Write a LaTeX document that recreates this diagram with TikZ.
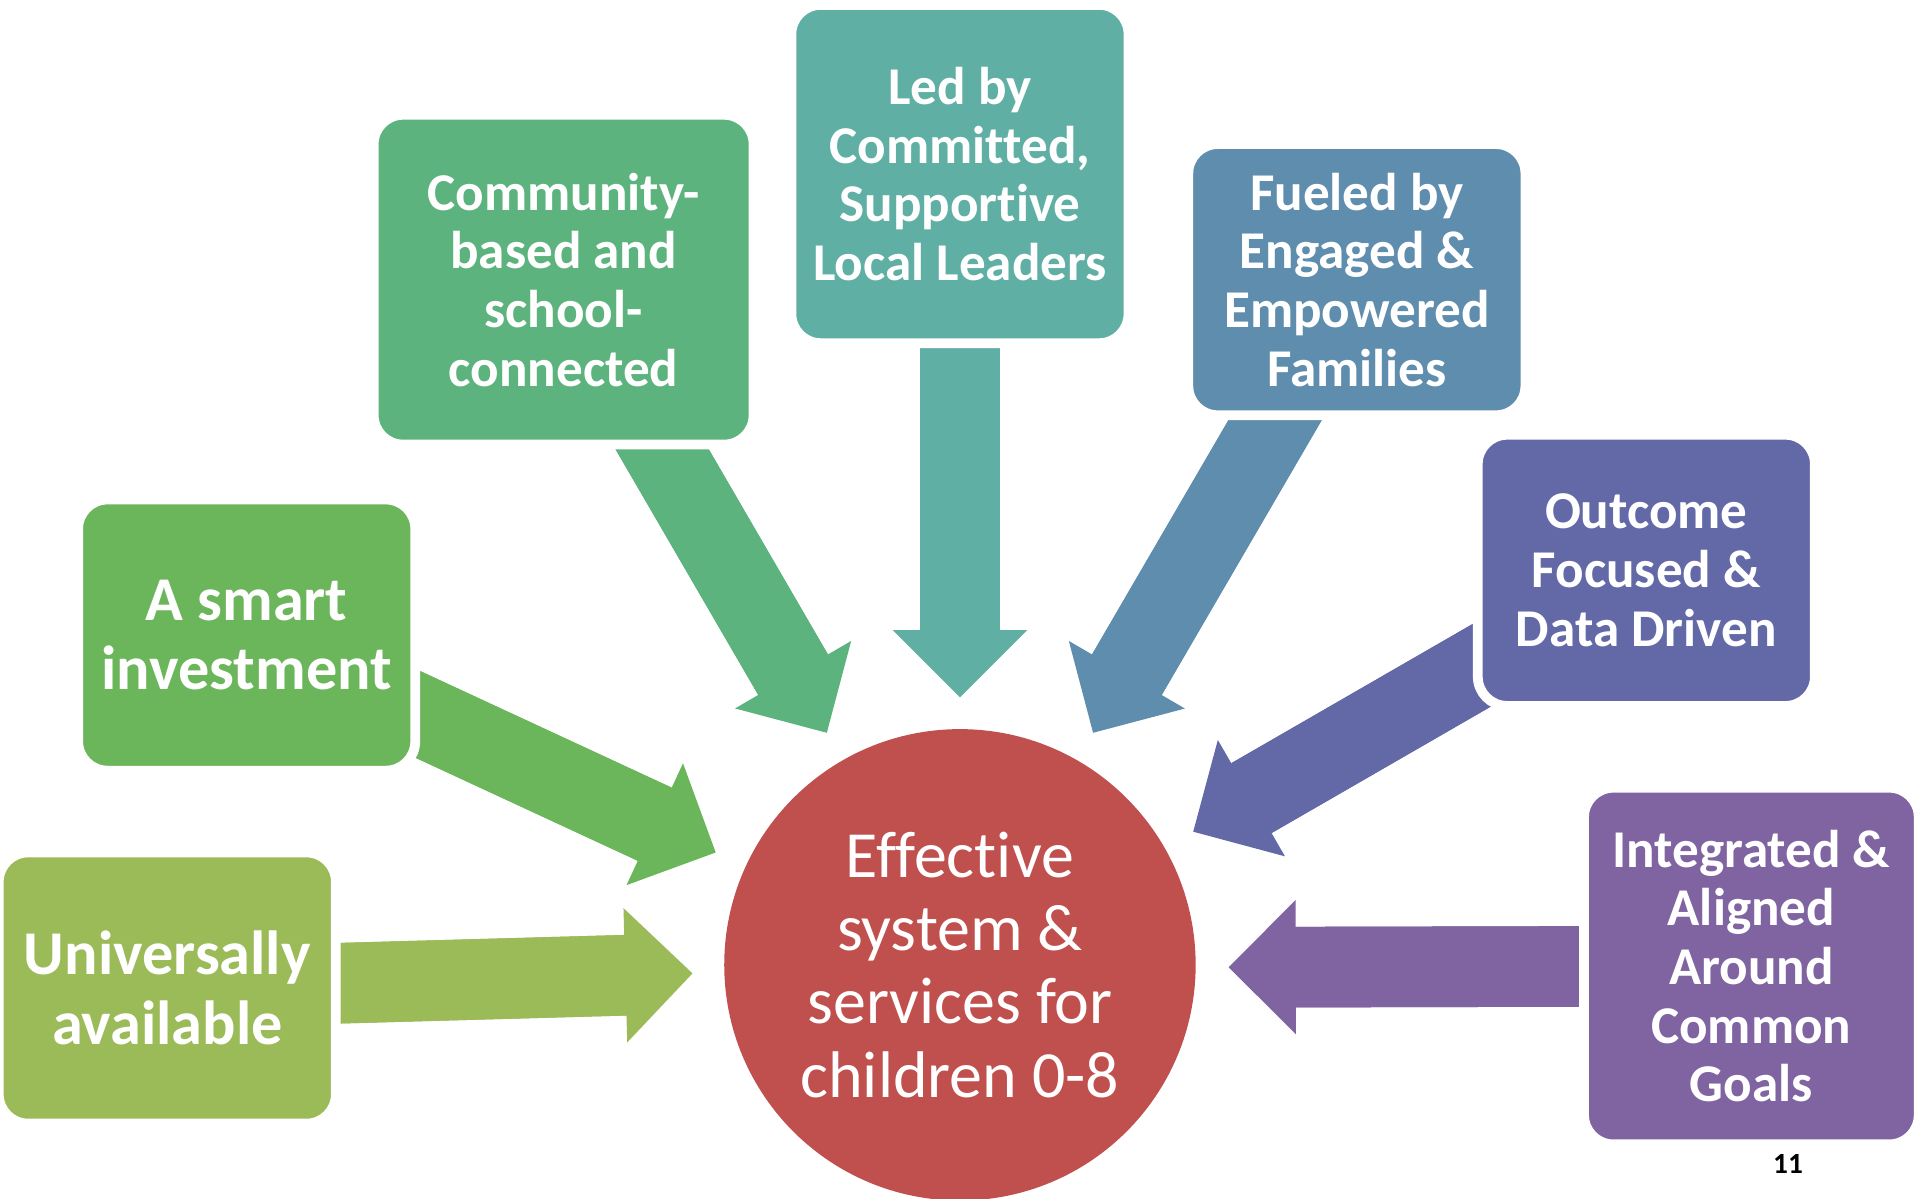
\documentclass[tikz,border=0pt]{standalone}
\usepackage{fontspec}
\setmainfont{Carlito}[Ligatures={NoCommon}]
\usetikzlibrary{arrows.meta}
\pgfdeclarelayer{bg}
\pgfsetlayers{bg,main}
\definecolor{cComm}{RGB}{93,179,126}
\definecolor{cLead}{RGB}{95,175,165}
\definecolor{cFuel}{RGB}{95,141,173}
\definecolor{cOutc}{RGB}{99,105,166}
\definecolor{cInteg}{RGB}{128,100,162}
\definecolor{cSmart}{RGB}{107,182,91}
\definecolor{cUniv}{RGB}{155,187,89}
\definecolor{cHub}{RGB}{192,80,77}
\newcommand\flowarrow[3]{%
  \draw[flow,#1] (#2) -- (#3);
  \draw[shaftline,#1] (#2) -- (#3);}
\begin{document}
\begin{tikzpicture}[x=1pt,y=-1pt,
  box/.style={rounded corners=24pt, draw=white, line width=8pt, inner sep=0pt,
    align=center, text=white, font=\fontsize{43.5}{48}\selectfont\bfseries},
  bigtxt/.style={font=\fontsize{51}{57}\selectfont\bfseries},
  flow/.style={line width=66pt, -{Triangle[width=110pt,length=55pt,line width=0pt]}},
  shaftline/.style={line width=66pt, shorten >=42pt}]
\useasboundingbox (0,0) rectangle (1568,981);
% hub
\node[circle, fill=cHub, minimum size=386pt, inner sep=0pt, text=white, align=center,
  font=\fontsize{54}{60}\selectfont] (hub) at (786,790)
  {Effective\\system \&\\services for\\children 0-8};
% boxes
\node[box, fill=cComm, minimum width=311pt, minimum height=270pt] (comm) at (461.5,229)
  {Community-\\based and\\school-\\connected};
\node[box, fill=cLead, minimum width=276pt, minimum height=277pt] (lead) at (786,142.5)
  {Led by\\Committed,\\Supportive\\Local Leaders};
\node[box, fill=cFuel, minimum width=276pt, minimum height=222pt] (fuel) at (1111,229)
  {Fueled by\\Engaged \&\\Empowered\\Families};
\node[box, fill=cOutc, minimum width=276pt, minimum height=222pt] (outc) at (1348,467)
  {Outcome\\Focused \&\\Data Driven};
\node[box, fill=cInteg, minimum width=274pt, minimum height=292pt] (integ) at (1434,791)
  {Integrated \&\\Aligned\\Around\\Common\\Goals};
\node[box, bigtxt, fill=cSmart, minimum width=276pt, minimum height=222pt] (smart) at (202,520)
  {A smart\\investment};
\node[box, bigtxt, fill=cUniv, minimum width=276pt, minimum height=222pt] (univ) at (137,809)
  {Universally\\available};
% arrow tips
\coordinate (tLead) at (786,571);
\coordinate (tComm) at (677,600);
\coordinate (tFuel) at (895,600);
\coordinate (tSmart) at (586,698);
\coordinate (tUniv) at (567,797);
\coordinate (tOutc) at (977,681);
\coordinate (tInteg) at (1006,792);
\begin{pgfonlayer}{bg}
\flowarrow{cLead}{lead.center}{tLead}
\flowarrow{cComm}{comm.center}{tComm}
\flowarrow{cFuel}{fuel.center}{tFuel}
\flowarrow{cSmart}{smart.center}{tSmart}
\flowarrow{cUniv}{univ.center}{tUniv}
\flowarrow{cOutc}{outc.center}{tOutc}
\flowarrow{cInteg}{integ.center}{tInteg}
\end{pgfonlayer}
\node[font=\fontsize{24}{28}\selectfont\bfseries] (pg) at (1464,953) {11};
\end{tikzpicture}
\end{document}
